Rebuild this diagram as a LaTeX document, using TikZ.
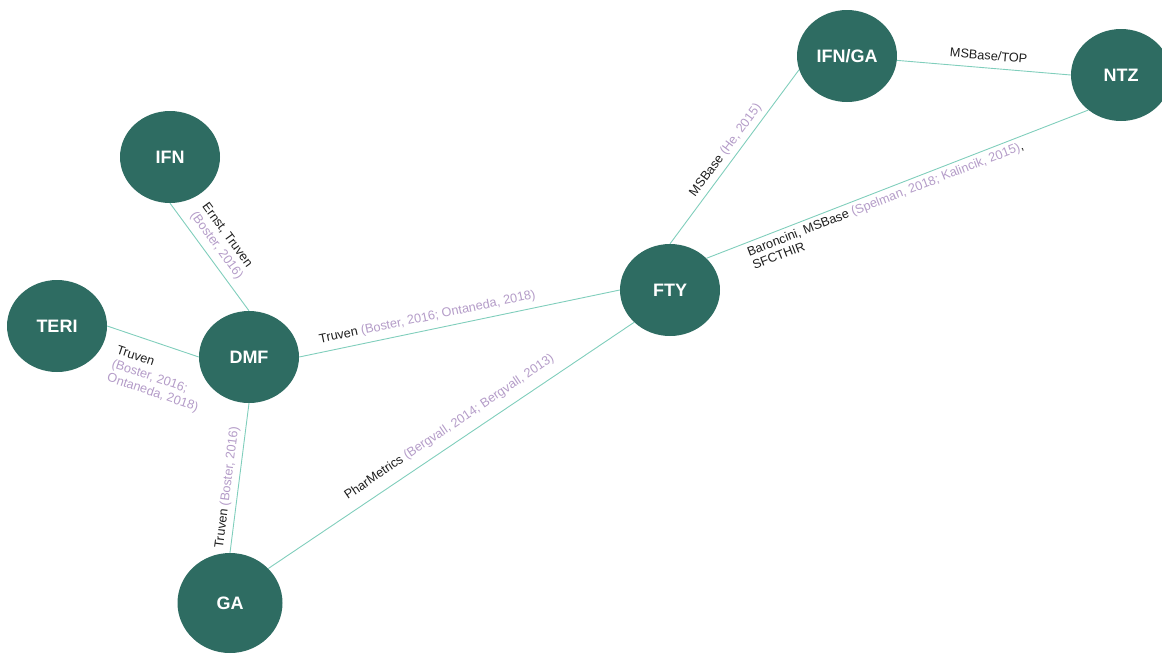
\documentclass[tikz,border=0pt]{standalone}
\usepackage{fontspec}
\setmainfont{Liberation Sans}
\usetikzlibrary{shapes.geometric}
\definecolor{nodecol}{RGB}{46,108,98}
\definecolor{linkcol}{RGB}{128,206,188}
\definecolor{citecol}{RGB}{180,156,200}
\definecolor{lblcol}{RGB}{30,30,30}
\newcommand{\cit}[1]{\textcolor{citecol}{#1}}
\tikzset{
  drug/.style={ellipse, fill=nodecol, text=white, minimum width=100pt, minimum height=92pt,
    inner sep=0pt, font=\bfseries\fontsize{18}{20}\selectfont},
  biggdrug/.style={drug, minimum width=105pt, minimum height=100pt},
  link/.style={draw=linkcol, line width=0.9pt},
  lbl/.style={sloped, text=lblcol, inner xsep=0pt, align=left,
    font=\fontsize{12.7}{14.5}\selectfont}
}
\begin{document}
\begin{tikzpicture}[x=1pt,y=-1pt]
\path[use as bounding box] (0,0) rectangle (1162,654);
% nodes
\node[drug] (IFN) at (170,157) {IFN};
\node[drug] (TERI) at (57,326) {TERI};
\node[drug] (DMF) at (249,357) {DMF};
\node[biggdrug] (GA) at (230,603) {GA};
\node[drug] (FTY) at (670,290) {FTY};
\node[drug] (IFNGA) at (847,56) {IFN/GA};
\node[drug] (NTZ) at (1121,75) {NTZ};
% connectors
\draw[link] (IFN.south) -- node[lbl, pos=0.16, anchor=south west, inner ysep=6pt]
  {Ernst, Truven\\\cit{(Boster, 2016)}} (DMF.north);
\draw[link] (TERI.east) -- node[lbl, pos=0.17, anchor=north west, inner ysep=14pt]
  {Truven\\\cit{(Boster, 2016;}\\\cit{Ontaneda, 2018)}} (DMF.west);
\draw[link] (DMF.east) -- node[lbl, pos=0.07, anchor=south west, inner ysep=6pt]
  {Truven \cit{(Boster, 2016; Ontaneda, 2018)}} (FTY.west);
\draw[link] (GA.north) -- node[lbl, pos=0.02, anchor=south west, inner ysep=4.5pt]
  {Truven \cit{(Boster, 2016)}} (DMF.south);
\draw[link] (GA.42) -- node[lbl, pos=0.236, anchor=south west, inner ysep=9.5pt]
  {PharMetrics \cit{(Bergvall, 2014; Bergvall, 2013)}} (FTY.222);
\draw[link] (FTY.north) -- node[lbl, pos=0.24, anchor=south west, inner ysep=4.5pt]
  {MSBase \cit{(He, 2015)}} (IFNGA.196);
\draw[link] (FTY.41) -- node[lbl, pos=0.098, anchor=north west, inner ysep=4pt]
  {Baroncini, MSBase \cit{(Spelman, 2018; Kalincik, 2015)},\\SFCTHIR} (NTZ.227);
\draw[link] (IFNGA.-5) -- node[lbl, pos=0.297, anchor=south west, inner ysep=7.5pt]
  {MSBase/TOP} (NTZ.west);
\end{tikzpicture}
\end{document}
